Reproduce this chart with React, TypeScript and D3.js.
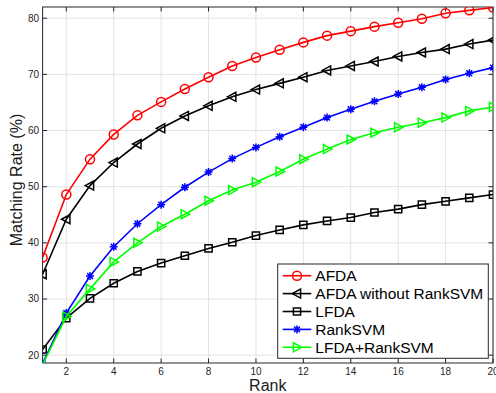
import React from 'react';
import * as d3 from 'd3';

const ranks = d3.range(1, 21);

const afda = [37.4, 48.6, 54.9, 59.3, 62.7, 65.1, 67.4, 69.5, 71.5, 73.0, 74.4, 75.7, 76.9, 77.7, 78.5, 79.2, 79.9, 80.9, 81.4, 81.9];
const afdaNoRank = [34.4, 44.2, 50.2, 54.3, 57.6, 60.4, 62.6, 64.4, 66.0, 67.3, 68.4, 69.5, 70.7, 71.5, 72.3, 73.2, 73.9, 74.5, 75.4, 76.1];
const lfda = [21.0, 26.6, 30.1, 32.8, 34.9, 36.4, 37.7, 39.0, 40.1, 41.3, 42.3, 43.2, 43.9, 44.5, 45.4, 46.0, 46.8, 47.4, 48.0, 48.6];
const rankSvm = [18.5, 27.5, 34.1, 39.3, 43.4, 46.8, 49.9, 52.6, 55.0, 57.0, 58.9, 60.6, 62.3, 63.8, 65.2, 66.5, 67.7, 69.1, 70.2, 71.2];
const lfdaRank = [18.3, 26.9, 31.8, 36.6, 40.0, 42.9, 45.1, 47.5, 49.4, 50.8, 52.7, 54.9, 56.7, 58.4, 59.6, 60.6, 61.4, 62.3, 63.5, 64.2];

const yTicks = [20, 30, 40, 50, 60, 70, 80];
const xTicks = [2, 4, 6, 8, 10, 12, 14, 16, 18, 20];

type Marker = 'circle' | 'triLeft' | 'square' | 'star' | 'triRight';

const series: { name: string; values: number[]; color: string; marker: Marker }[] = [
  { name: 'AFDA', values: afda, color: '#ff0000', marker: 'circle' },
  { name: 'AFDA without RankSVM', values: afdaNoRank, color: '#000000', marker: 'triLeft' },
  { name: 'LFDA', values: lfda, color: '#000000', marker: 'square' },
  { name: 'RankSVM', values: rankSvm, color: '#0000ff', marker: 'star' },
  { name: 'LFDA+RankSVM', values: lfdaRank, color: '#00ff00', marker: 'triRight' },
];

const W = 496;
const H = 393;
const left = 42.6;
const right = 493;
const top = 7;
const bottom = 363;
const font = 'Liberation Sans, Arial, Helvetica, sans-serif';

function markerPath(m: Marker): string {
  const s = 4.5;
  switch (m) {
    case 'circle':
      return `M${s},0A${s},${s} 0 1,1 ${-s},0A${s},${s} 0 1,1 ${s},0Z`;
    case 'square':
      return `M-3.6,-3.6H3.6V3.6H-3.6Z`;
    case 'triLeft':
      return `M-4.8,0L3.6,-4.5L3.6,4.5Z`;
    case 'triRight':
      return `M4.8,0L-3.6,-4.5L-3.6,4.5Z`;
    case 'star':
      return `M-4,0H4M0,-4V4M-2.9,-2.9L2.9,2.9M-2.9,2.9L2.9,-2.9`;
  }
}

const App: React.FC = () => {
  const x = d3.scaleLinear().domain([1, 20]).range([left, right]);
  const y = d3.scaleLinear().domain([18.6, 82]).range([bottom, top]);
  const line = d3.line<number>().x((_, i) => x(ranks[i])).y(d => y(d));

  const legX = 277.7;
  const legY = 264;
  const legW = 210.6;
  const legH = 94.3;
  const rowH = 17.9;

  return (
    <div style={{ position: 'absolute', left: 0, top: 0 }}>
      <svg width={W} height={H} style={{ display: 'block', background: '#fff' }}>
        <defs>
          <clipPath id="plot">
            <rect x={left} y={top} width={right - left} height={bottom - top} />
          </clipPath>
        </defs>
        {/* grid */}
        <g stroke="#e3e3e3" strokeWidth={1}>
          {xTicks.map(t => (
            <line key={'gx' + t} x1={x(t)} x2={x(t)} y1={top} y2={bottom} />
          ))}
          {yTicks.map(t => (
            <line key={'gy' + t} x1={left} x2={right} y1={y(t)} y2={y(t)} />
          ))}
        </g>
        {/* box and ticks */}
        <g stroke="#262626" strokeWidth={1} fill="none">
          <rect x={left} y={top} width={right - left} height={bottom - top} />
          {xTicks.map(t => (
            <g key={'tx' + t}>
              <line x1={x(t)} x2={x(t)} y1={bottom} y2={bottom - 4.5} />
              <line x1={x(t)} x2={x(t)} y1={top} y2={top + 4.5} />
            </g>
          ))}
          {yTicks.map(t => (
            <g key={'ty' + t}>
              <line x1={left} x2={left + 4.5} y1={y(t)} y2={y(t)} />
              <line x1={right} x2={right - 4.5} y1={y(t)} y2={y(t)} />
            </g>
          ))}
        </g>
        <g fontFamily={font} fontSize={10} fill="#262626">
          {xTicks.map(t => (
            <text key={'lx' + t} x={x(t)} y={374.5} textAnchor="middle">{t}</text>
          ))}
          {yTicks.map(t => (
            <text key={'ly' + t} x={left - 3.5} y={y(t)} dy="0.35em" textAnchor="end">{t}</text>
          ))}
        </g>
        <text x={(left + right) / 2} y={391} textAnchor="middle" fontFamily={font} fontSize={16} fill="#1a1a1a">Rank</text>
        <text
          transform={`translate(22,180) rotate(-90)`}
          textAnchor="middle"
          fontFamily={font}
          fontSize={16}
          fill="#1a1a1a"
        >
          Matching Rate (%)
        </text>
        {/* series */}
        <g clipPath="url(#plot)">
          {series.map(s => (
            <g key={s.name}>
              <path d={line(s.values) || ''} fill="none" stroke={s.color} strokeWidth={1.6} />
              {s.values.map((v, i) => (
                <path
                  key={i}
                  d={markerPath(s.marker)}
                  transform={`translate(${x(ranks[i])},${y(v)})`}
                  fill="none"
                  stroke={s.color}
                  strokeWidth={1.5}
                />
              ))}
            </g>
          ))}
        </g>
        {/* legend */}
        <g>
          <rect x={legX} y={legY} width={legW} height={legH} fill="#fff" stroke="#262626" strokeWidth={1} />
          {series.map((s, i) => {
            const cy = legY + 11.7 + i * rowH;
            return (
              <g key={'leg' + s.name}>
                <line x1={282.7} x2={311.3} y1={cy} y2={cy} stroke={s.color} strokeWidth={1.6} />
                <path d={markerPath(s.marker)} transform={`translate(297,${cy})`} fill="none" stroke={s.color} strokeWidth={1.5} />
                <text x={315.3} y={cy} dy="0.36em" fontFamily={font} fontSize={15.5} fill="#000">{s.name}</text>
              </g>
            );
          })}
        </g>
      </svg>
    </div>
  );
};

export default App;
